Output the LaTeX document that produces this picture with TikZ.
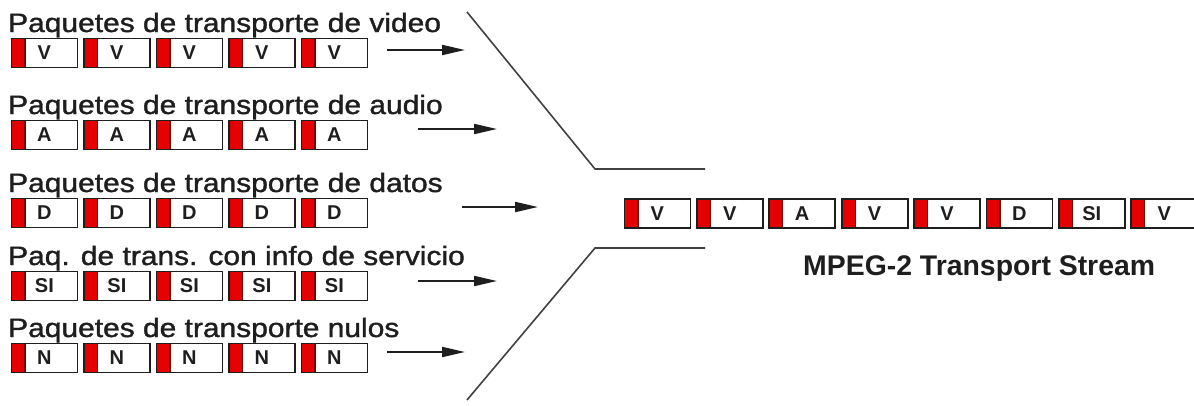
\documentclass[tikz,border=0pt]{standalone}
\usepackage{graphicx}
\usepackage{fontspec}
\setmainfont{Liberation Sans}
\newfontfamily\lblfont[FakeBold=1.3]{Liberation Sans}
\usetikzlibrary{arrows.meta}
\definecolor{pktred}{RGB}{228,0,0}
\definecolor{ink}{RGB}{30,30,30}
\begin{document}
\begin{tikzpicture}[x=1pt,y=-1pt,
 pkt/.style={draw=ink, line width=1.8pt, rectangle, minimum width=66pt, minimum height=29pt,
   inner sep=0pt, anchor=north west, font=\fontsize{20}{22}\selectfont\bfseries, text=ink,
   path picture={\fill[pktred] (path picture bounding box.north west) rectangle ([xshift=14pt]path picture bounding box.south west);
   \draw[black!55!red, line width=1.2pt] ([xshift=13.5pt]path picture bounding box.north west) -- ([xshift=13.5pt]path picture bounding box.south west);}},
 lbl/.style={anchor=base west, inner sep=0pt, text=ink, font=\lblfont\fontsize{26.5}{30}\selectfont},
 title/.style={anchor=base west, inner sep=0pt, text=ink, font=\fontsize{28.4}{32}\selectfont\bfseries},
 feed/.style={line width=2pt, draw=ink, -{Triangle[length=23pt,width=10pt]}},
 funnel/.style={line width=1.6pt, draw=ink!85}]
\useasboundingbox (0,0) rectangle (1194,405);
\clip (0,0) rectangle (1194,405);
% input rows
\foreach \r/\top/\ltr/\txt in {1/37/V/Paquetes de transporte de video,
                              2/119/A/Paquetes de transporte de audio,
                              3/197/D/Paquetes de transporte de datos,
                              4/270/SI/Paq. de trans. con info de servicio,
                              5/342/N/Paquetes de transporte nulos}{
  \node[lbl] (lab\r) at (8,\top-5) {\scalebox{1.13}[1]{\txt}};
  \foreach \j in {0,...,4}{
    \node[pkt] (r\r p\j) at (10.5+72.5*\j,\top+0.5) {\ltr};
  }
}
% feed arrows
\coordinate (a1s) at (387,50);  \coordinate (a1e) at (465,50);
\coordinate (a2s) at (418,129); \coordinate (a2e) at (497,129);
\coordinate (a3s) at (462,207); \coordinate (a3e) at (538,207);
\coordinate (a4s) at (418,281); \coordinate (a4e) at (497,281);
\coordinate (a5s) at (387,352); \coordinate (a5e) at (465,352);
\foreach \r in {1,...,5}{\draw[feed] (a\r s) -- (a\r e);}
% funnel
\coordinate (ft1) at (467,12);  \coordinate (ft2) at (595,169); \coordinate (ft3) at (705,169);
\coordinate (fb1) at (467,400); \coordinate (fb2) at (595,248); \coordinate (fb3) at (705,248);
\draw[funnel] (ft1) -- (ft2) -- (ft3);
\draw[funnel] (fb1) -- (fb2) -- (fb3);
% output stream
\foreach \ltr [count=\i from 0] in {V,V,A,V,V,D,SI,V}{
  \node[pkt] (s\i) at (623.5+72.4*\i,198) {\ltr};
}
\node[title] (ts) at (803,275) {MPEG-2 Transport Stream};
\end{tikzpicture}
\end{document}
